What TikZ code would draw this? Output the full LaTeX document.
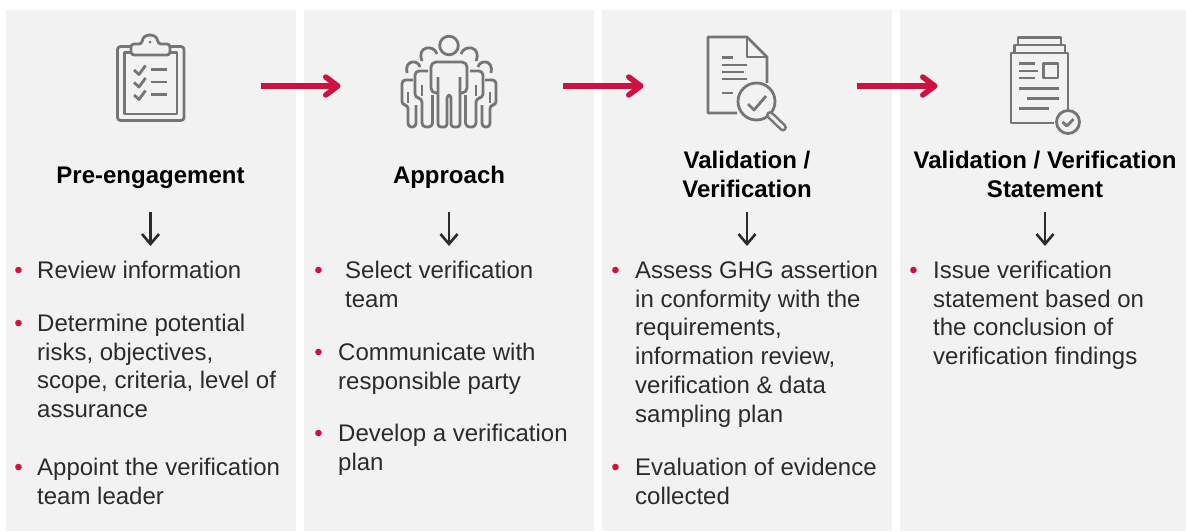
\documentclass[tikz,border=0pt]{standalone}
\usepackage{fontspec}
\setmainfont{Liberation Sans}
\usetikzlibrary{arrows.meta}
\definecolor{panelgray}{HTML}{F2F2F2}
\definecolor{icongray}{HTML}{757575}
\definecolor{flowred}{HTML}{CE1141}
\definecolor{textdark}{HTML}{2B2B2B}
\tikzset{
  panel/.style={fill=panelgray,draw=none},
  icon/.style={draw=icongray,line width=2.8pt,line join=round},
  iconfine/.style={draw=icongray,line width=2.8pt,line join=round,rounded corners=3pt},
  flow/.style={draw=flowred,line width=6.5pt,-{Straight Barb[length=12pt,width=18pt,line width=5.5pt,round=false]}},
  down/.style={draw=textdark,line width=2.4pt,-{Straight Barb[length=10pt,width=17pt,line width=2.6pt]}},
  heading/.style={font=\fontsize{24}{29}\selectfont\bfseries,text=black,align=center,inner sep=0pt},
  item/.style={font=\fontsize{24}{28.8}\selectfont,text=textdark,align=left,inner sep=0pt,anchor=north west},
  dot/.style={font=\fontsize{24}{24}\selectfont,text=flowred,inner sep=0pt,anchor=base},
}
\begin{document}
\begin{tikzpicture}[x=1pt,y=1pt,yscale=-1]
\useasboundingbox (0,0) rectangle (1186,531);
\fill[white] (0,0) rectangle (1186,531);
\node[panel,minimum width=290pt,minimum height=521pt,inner sep=0pt,anchor=north west] (p1) at (6,10) {};
\node[panel,minimum width=290pt,minimum height=521pt,inner sep=0pt,anchor=north west] (p2) at (304,10) {};
\node[panel,minimum width=290pt,minimum height=521pt,inner sep=0pt,anchor=north west] (p3) at (602,10) {};
\node[panel,minimum width=286pt,minimum height=521pt,inner sep=0pt,anchor=north west] (p4) at (900,10) {};

% clipboard
\draw[iconfine] (131,46.5) -- (117.5,46.5) -- (117.5,120.5) -- (184,120.5) -- (184,46.5) -- (170,46.5);
\draw[icon,line width=2.4pt] (131,52.5) -- (124.5,52.5) -- (124.5,114) -- (177,114) -- (177,52.5) -- (170,52.5);
\draw[iconfine] (131,55) -- (131,44) -- (142,44) .. controls (143,33) and (157,33) .. (158,44) -- (170,44) -- (170,55) -- cycle;
\fill[icongray] (150,42) circle (1.5pt);
\foreach \yy in {70,82.5,95}{
  \draw[icon] (134,\yy) -- (139,{\yy+4.5}) -- (145.5,{\yy-4.5});
  \draw[icon] (151,{\yy-.5}) -- (167,{\yy-.5});
}

% people
\begin{scope}[icon]
\draw (449,45.5) circle (9.3pt);
\foreach \m in {0,1}{
\begin{scope}[shift={(\m*898,0)},xscale={1-2*\m}]
  \draw[rounded corners=3pt] (450,95) -- (447,95) -- (447,127) -- (438,127) -- (438,77);
  \draw[rounded corners=5pt] (438,93) -- (431,93) -- (431,62) -- (449,62);
  \draw (422,61) .. controls (416,46) and (434,44) .. (437,54);
  \draw[rounded corners=4pt] (428,71) -- (415,71) -- (415,98) -- (422,98) -- (422,127) -- (432.5,127) -- (432.5,95);
  \draw (422,85) -- (422,96);
  \draw (407,73) .. controls (404,60) and (418,59) .. (420,67);
  \draw[rounded corners=3.5pt] (413,80) -- (402,80) -- (402,105) -- (408,105) -- (408,127) -- (416,127) -- (416,105);
  \draw (408,92) -- (408,103);
\end{scope}}
\end{scope}

% document with magnifier
\draw[icon] (737,113) -- (708,113) -- (708,37) -- (747,37) -- (767,57) -- (767,83);
\draw[icon] (747,37) -- (747,57) -- (767,57);
\foreach \yy/\xe in {57.5/733,65/747,72/744,79/747,93/733}{\draw[icon] (722,\yy) -- (\xe,\yy);}
\draw[icon] (756.5,101.5) circle (18.5pt);
\draw[icon] (748,104) -- (754,110) -- (766,96);
\draw[draw=icongray,line width=8pt,line cap=round] (770,115) -- (783,127.5);
\draw[draw=panelgray,line width=3pt,line cap=round] (770,115) -- (783,127.5);

% statement
\draw[icon] (1018,44) -- (1018,37.5) -- (1061,37.5) -- (1061,44);
\draw[icon] (1014.5,52) -- (1014.5,45) -- (1065,45) -- (1065,52);
\draw[icon] (1054,123) -- (1011,123) -- (1011,53) -- (1068,53) -- (1068,110);
\draw[icon] (1043.5,63.5) rectangle (1058,78);
\foreach \yy/\xs/\xe in {63.5/1019/1035,71/1019/1038,78/1019/1035,88.5/1019/1059,98.5/1027/1059,108.5/1019/1049}{\draw[icon] (\xs,\yy) -- (\xe,\yy);}
\draw[icon] (1068,122) circle (11.5pt);
\draw[icon] (1062.5,122) -- (1067,126) -- (1073.5,119);

% coordinates and red arrows
\coordinate (r1a) at (261,86); \coordinate (r1b) at (340.5,86);
\coordinate (r2a) at (563,86); \coordinate (r2b) at (643.5,86);
\coordinate (r3a) at (857,86); \coordinate (r3b) at (937.5,86);
\draw[flow] (r1a) -- (r1b);
\draw[flow] (r2a) -- (r2b);
\draw[flow] (r3a) -- (r3b);

% headings
\node[heading] (h1) at (150.5,178) {\vphantom{Pp}Pre-engagement};
\node[heading] (h2) at (449,177) {\vphantom{Pp}Approach};
\node[heading] (h3) at (747,174.5) {Validation /\\Verification};
\node[heading] (h4) at (1045,174.5) {Validation / Verification\\Statement};

% down arrows
\coordinate (d1a) at (150.5,212); \coordinate (d1b) at (150.5,246);
\coordinate (d2a) at (449,212); \coordinate (d2b) at (449,246);
\coordinate (d3a) at (747,212); \coordinate (d3b) at (747,246);
\coordinate (d4a) at (1045,212); \coordinate (d4b) at (1045,246);
\draw[down] (d1a) -- (d1b);
\draw[down] (d2a) -- (d2b);
\draw[down] (d3a) -- (d3b);
\draw[down] (d4a) -- (d4b);

% column 1
\node[dot] (b11) at (18.5,278) {•};
\node[item] (t11) at (37,258) {\strut Review information};
\node[dot] (b12) at (18.5,331) {•};
\node[item] (t12) at (37,311) {\strut Determine potential\\risks, objectives,\\scope, criteria, level of\\assurance};
\node[dot] (b13) at (18.5,475) {•};
\node[item] (t13) at (37,455) {\strut Appoint the verification\\team leader};
% column 2
\node[dot] (b21) at (318.5,278) {•};
\node[item] (t21) at (345,258) {\strut Select verification\\team};
\node[dot] (b22) at (318.5,360) {•};
\node[item] (t22) at (338,340) {\strut Communicate with\\responsible party};
\node[dot] (b23) at (318.5,441) {•};
\node[item] (t23) at (338,421) {\strut Develop a verification\\plan};
% column 3
\node[dot] (b31) at (615.5,278) {•};
\node[item] (t31) at (635,258) {\strut Assess GHG assertion\\in conformity with the\\requirements,\\information review,\\verification \& data\\sampling plan};
\node[dot] (b32) at (615.5,475) {•};
\node[item] (t32) at (635,455) {\strut Evaluation of evidence\\collected};
% column 4
\node[dot] (b41) at (913.5,278) {•};
\node[item] (t41) at (933,258) {\strut Issue verification\\statement based on\\the conclusion of\\verification findings};
\end{tikzpicture}
\end{document}
